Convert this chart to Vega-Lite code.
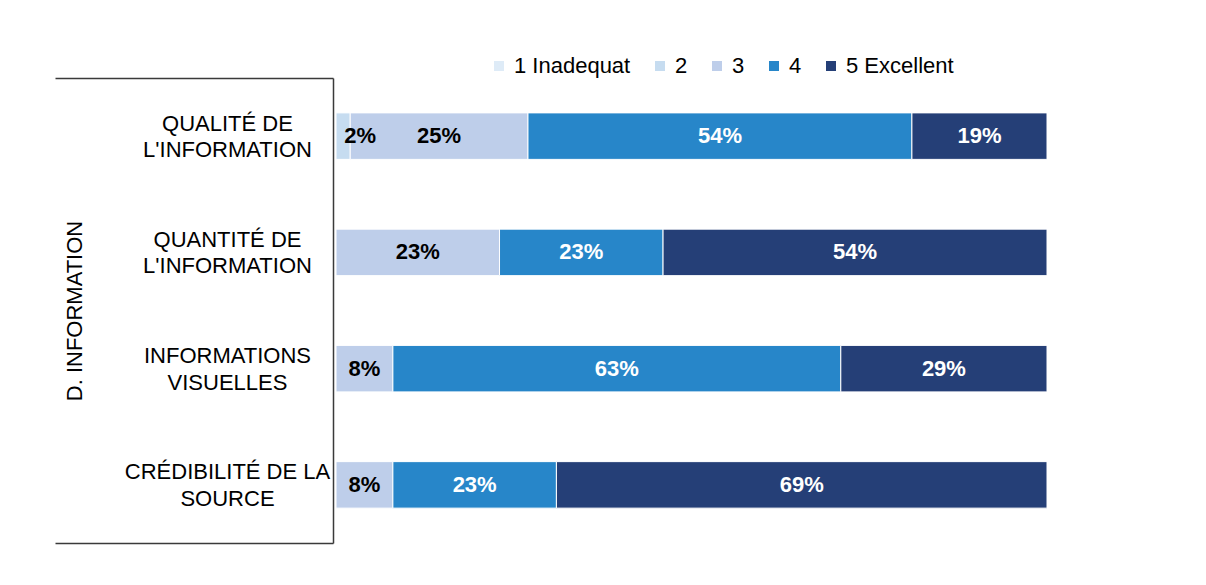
{
  "$schema": "https://vega.github.io/schema/vega-lite/v6.json",
  "width": 711,
  "height": 465,
  "autosize": {"type": "none"},
  "padding": {"left": 336, "top": 78, "right": 159, "bottom": 42},
  "background": "white",
  "config": {"view": {"stroke": null}, "font": "Liberation Sans"},
  "data": {"values": [
    {"item": "QUALITÉ DE|L'INFORMATION", "note": "2", "pct": 0.02},
    {"item": "QUALITÉ DE|L'INFORMATION", "note": "3", "pct": 0.25},
    {"item": "QUALITÉ DE|L'INFORMATION", "note": "4", "pct": 0.54},
    {"item": "QUALITÉ DE|L'INFORMATION", "note": "5 Excellent", "pct": 0.19},
    {"item": "QUANTITÉ DE|L'INFORMATION", "note": "3", "pct": 0.23},
    {"item": "QUANTITÉ DE|L'INFORMATION", "note": "4", "pct": 0.23},
    {"item": "QUANTITÉ DE|L'INFORMATION", "note": "5 Excellent", "pct": 0.54},
    {"item": "INFORMATIONS|VISUELLES", "note": "3", "pct": 0.08},
    {"item": "INFORMATIONS|VISUELLES", "note": "4", "pct": 0.63},
    {"item": "INFORMATIONS|VISUELLES", "note": "5 Excellent", "pct": 0.29},
    {"item": "CRÉDIBILITÉ DE LA|SOURCE", "note": "3", "pct": 0.08},
    {"item": "CRÉDIBILITÉ DE LA|SOURCE", "note": "4", "pct": 0.23},
    {"item": "CRÉDIBILITÉ DE LA|SOURCE", "note": "5 Excellent", "pct": 0.69}
  ]},
  "encoding": {
    "y": {
      "field": "item",
      "type": "nominal",
      "sort": ["QUALITÉ DE|L'INFORMATION", "QUANTITÉ DE|L'INFORMATION", "INFORMATIONS|VISUELLES", "CRÉDIBILITÉ DE LA|SOURCE"],
      "scale": {"paddingInner": 0.6, "paddingOuter": 0.3},
      "axis": {
        "title": "D. INFORMATION",
        "titleFont": "Liberation Sans",
        "titleFontSize": 22,
        "titleFontWeight": "normal",
        "titleColor": "black",
        "titleAngle": -90,
        "titleAlign": "center",
        "titleBaseline": "middle",
        "titleX": -259,
        "titleY": 232.5,
        "offset": 3,
        "domainColor": "#3a3a3a",
        "domainWidth": 1.5,
        "ticks": true,
        "tickSize": 278,
        "tickColor": "#3a3a3a",
        "tickWidth": 1.5,
        "tickOpacity": {"condition": {"test": "datum.index == 0 || datum.index == 1", "value": 1}, "value": 0},
        "tickOffset": {"expr": "datum.index == 0 ? -58.125 : 58.125"},
        "labelExpr": "split(datum.label, '|')",
        "labelFont": "Liberation Sans",
        "labelFontSize": 22,
        "labelColor": "black",
        "labelAlign": "center",
        "labelBaseline": "middle",
        "labelLineHeight": 26.5,
        "labelOffset": {"expr": "(datum.index == 0 ? 58.125 : -58.125) - 13"},
        "labelPadding": -172,
        "labelLimit": 300
      }
    }
  },
  "layer": [
    {
      "mark": {"type": "bar", "stroke": "white", "strokeWidth": 1},
      "encoding": {
        "x": {"field": "pct", "type": "quantitative", "stack": "zero", "scale": {"domain": [0, 1]}, "axis": null},
        "order": {"field": "note", "sort": "ascending"},
        "color": {
          "field": "note",
          "type": "nominal",
          "scale": {
            "domain": ["1 Inadequat", "2", "3", "4", "5 Excellent"],
            "range": ["#DEEBF7", "#C6DCF0", "#BECEEA", "#2786C9", "#253F77"]
          },
          "legend": {
            "title": null,
            "orient": "none",
            "direction": "horizontal",
            "legendX": 152,
            "legendY": -23,
            "padding": 0,
            "symbolType": "square",
            "symbolSize": 100,
            "symbolStrokeWidth": 0,
            "labelFont": "Liberation Sans",
            "labelFontSize": 22,
            "labelColor": "black",
            "labelOffset": 4,
            "columnPadding": 18,
            "labelLimit": 300
          }
        }
      }
    },
    {
      "mark": {"type": "text", "fontWeight": "bold", "fontSize": 22, "font": "Liberation Sans", "baseline": "middle", "align": "center", "dx": {"expr": "datum.note == '2' ? 17 : 0"}},
      "encoding": {
        "x": {"field": "pct", "type": "quantitative", "stack": "zero", "bandPosition": 0.5},
        "detail": {"field": "note"},
        "order": {"field": "note", "sort": "ascending"},
        "text": {"field": "pct", "type": "quantitative", "format": ".0%"},
        "color": {"condition": {"test": "datum.note == '4' || datum.note == '5 Excellent'", "value": "white"}, "value": "black"}
      }
    }
  ]
}
